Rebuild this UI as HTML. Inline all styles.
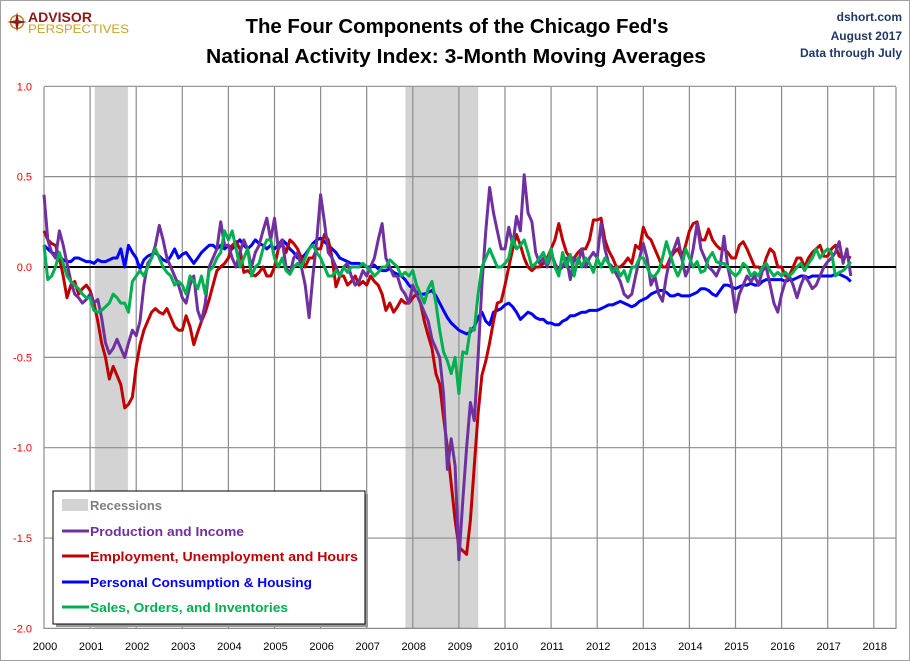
<!DOCTYPE html>
<html><head><meta charset="utf-8"><style>
body{margin:0;background:#fff;}
#wrap{position:relative;width:908px;height:659px;border:1px solid #a0a0a0;overflow:hidden;font-family:"Liberation Sans",sans-serif;}
svg{position:absolute;left:0;top:0}
</style></head><body>
<div id="wrap">
<svg id="chart" width="910" height="661"></svg>
</div>
<script>
const years=["2000","2001","2002","2003","2004","2005","2006","2007","2008","2009","2010","2011","2012","2013","2014","2015","2016","2017","2018"];
const yTicks=[1.0,0.5,0.0,-0.5,-1.0,-1.5,-2.0];
const yTickLabels=["1.0","0.5","0.0","-0.5","-1.0","-1.5","-2.0"];
const recessions=[[2001.1,2001.82],[2007.84,2009.42]];
const startYear=2000;
const production=[0.4,0.15,0.08,0.05,0.2,0.12,0.02,-0.08,-0.15,-0.17,-0.2,-0.18,
-0.15,-0.2,-0.18,-0.28,-0.42,-0.48,-0.45,-0.4,-0.45,-0.5,-0.42,-0.35,
-0.38,-0.3,-0.1,0.02,0.05,0.12,0.23,0.15,0.05,0.0,-0.05,-0.1,
-0.17,-0.2,-0.1,-0.05,-0.24,-0.3,-0.2,0.0,0.05,0.1,0.25,0.12,
0.12,0.05,0.0,0.08,0.15,0.1,0.0,0.08,0.12,0.2,0.27,0.15,
0.27,0.1,0.15,0.0,-0.04,0.05,0.08,0.0,-0.1,-0.28,-0.05,0.15,
0.4,0.25,0.08,0.05,0.0,-0.05,0.0,0.02,-0.05,-0.1,-0.08,-0.02,
-0.05,0.0,0.05,0.15,0.24,0.05,0.0,-0.05,-0.05,-0.12,-0.15,-0.2,
-0.1,-0.15,-0.2,-0.25,-0.3,-0.4,-0.45,-0.5,-0.7,-1.12,-0.95,-1.1,
-1.62,-1.3,-1.0,-0.75,-0.85,-0.5,-0.1,0.2,0.44,0.3,0.2,0.1,
0.1,0.22,0.12,0.28,0.2,0.51,0.3,0.25,0.08,0.02,0.05,0.0,
0.08,0.02,-0.02,0.0,0.05,-0.07,0.05,0.02,0.1,0.0,0.05,0.08,
0.05,0.24,0.1,0.02,0.0,-0.04,-0.08,-0.15,-0.17,-0.15,-0.05,0.05,
0.13,0.05,-0.1,-0.05,-0.15,-0.19,-0.05,0.05,0.1,0.16,0.05,-0.05,
0.0,0.1,0.24,0.1,0.05,0.0,-0.02,-0.05,0.0,0.17,0.0,-0.1,
-0.25,-0.15,-0.1,-0.05,-0.08,-0.05,-0.1,-0.02,0.0,-0.1,-0.2,-0.25,
-0.15,-0.08,-0.05,-0.1,-0.17,-0.1,-0.05,-0.08,-0.12,-0.1,-0.05,0.0,
0.03,0.05,0.08,0.14,0.02,0.1,-0.05];
const employment=[0.2,0.15,0.13,0.12,0.05,-0.05,-0.17,-0.1,-0.08,-0.15,-0.12,-0.1,
-0.13,-0.2,-0.3,-0.42,-0.5,-0.62,-0.55,-0.6,-0.65,-0.78,-0.76,-0.72,
-0.55,-0.43,-0.35,-0.3,-0.25,-0.23,-0.25,-0.26,-0.23,-0.28,-0.33,-0.35,
-0.35,-0.27,-0.33,-0.43,-0.36,-0.3,-0.25,-0.18,-0.1,-0.02,0.0,0.02,
0.05,0.12,0.14,0.1,-0.03,-0.02,-0.04,-0.05,-0.03,0.0,-0.05,-0.05,
0.0,0.1,0.13,0.08,0.15,0.13,0.1,0.05,0.0,0.05,0.05,0.1,
0.1,0.18,0.15,0.05,-0.11,-0.05,-0.05,-0.1,-0.08,-0.05,-0.1,-0.08,
-0.1,-0.05,-0.08,-0.1,-0.15,-0.24,-0.2,-0.25,-0.22,-0.18,-0.2,-0.2,
-0.17,-0.15,-0.2,-0.3,-0.38,-0.45,-0.59,-0.65,-0.83,-1.0,-1.2,-1.4,
-1.55,-1.57,-1.59,-1.4,-1.1,-0.81,-0.6,-0.52,-0.42,-0.3,-0.2,-0.19,
-0.1,0.0,0.1,0.18,0.12,0.05,0.0,-0.02,0.0,0.0,0.02,0.05,
0.1,0.15,0.24,0.15,0.08,0.05,0.05,0.08,0.1,0.1,0.15,0.26,
0.26,0.27,0.15,0.09,0.05,0.0,0.0,0.02,0.05,0.02,0.12,0.1,
0.22,0.17,0.15,0.1,0.05,0.0,0.0,0.05,0.08,0.1,0.05,0.12,
0.2,0.24,0.25,0.15,0.15,0.21,0.15,0.12,0.1,0.1,0.08,0.05,
0.05,0.12,0.14,0.1,0.05,0.0,0.0,-0.02,0.05,0.1,0.08,0.0,
0.0,-0.05,-0.05,0.0,0.05,0.05,0.0,0.05,0.08,0.1,0.12,0.06,
0.06,0.1,0.12,0.06,0.05,0.06,0.05];
const consumption=[0.12,0.1,0.08,0.07,0.06,0.04,0.03,0.03,0.05,0.05,0.04,0.03,
0.03,0.02,0.04,0.03,0.03,0.04,0.05,0.05,0.1,0.0,0.12,0.08,
0.05,-0.01,0.04,0.06,0.07,0.08,0.06,0.04,0.03,0.06,0.1,0.05,
0.07,0.08,0.05,0.02,0.05,0.08,0.1,0.12,0.12,0.1,0.12,0.1,
0.12,0.1,0.13,0.15,0.12,0.1,0.12,0.15,0.13,0.12,0.1,0.12,
0.1,0.12,0.15,0.13,0.1,0.08,0.05,0.05,0.07,0.1,0.13,0.15,
0.16,0.14,0.12,0.1,0.08,0.05,0.04,0.03,0.02,0.02,0.02,0.01,
0.0,0.0,0.01,-0.01,-0.02,-0.02,-0.01,-0.03,-0.04,-0.05,-0.07,-0.1,
-0.12,-0.14,-0.15,-0.15,-0.14,-0.13,-0.16,-0.2,-0.24,-0.28,-0.31,-0.33,
-0.35,-0.36,-0.37,-0.36,-0.33,-0.28,-0.25,-0.3,-0.32,-0.25,-0.24,-0.23,
-0.21,-0.2,-0.22,-0.25,-0.29,-0.27,-0.25,-0.26,-0.28,-0.29,-0.29,-0.31,
-0.31,-0.32,-0.32,-0.3,-0.29,-0.27,-0.27,-0.26,-0.25,-0.25,-0.24,-0.24,
-0.24,-0.23,-0.22,-0.21,-0.21,-0.2,-0.19,-0.2,-0.21,-0.22,-0.21,-0.19,
-0.18,-0.17,-0.15,-0.14,-0.13,-0.13,-0.14,-0.16,-0.16,-0.15,-0.16,-0.16,
-0.16,-0.15,-0.14,-0.12,-0.12,-0.13,-0.15,-0.16,-0.13,-0.1,-0.1,-0.11,
-0.12,-0.11,-0.1,-0.1,-0.09,-0.1,-0.1,-0.08,-0.07,-0.07,-0.07,-0.07,
-0.07,-0.08,-0.07,-0.07,-0.06,-0.05,-0.05,-0.06,-0.05,-0.05,-0.05,-0.05,
-0.05,-0.05,-0.04,-0.04,-0.05,-0.06,-0.08];
const sales=[0.12,-0.07,-0.05,0.0,0.08,0.02,-0.05,-0.08,-0.1,-0.12,-0.15,-0.17,
-0.17,-0.24,-0.25,-0.24,-0.22,-0.2,-0.15,-0.17,-0.2,-0.2,-0.25,-0.08,
-0.05,-0.02,-0.05,0.0,0.05,0.1,0.05,0.0,-0.03,-0.05,-0.1,-0.08,
-0.1,-0.15,-0.05,-0.08,-0.12,-0.05,-0.15,-0.02,0.0,0.05,0.08,0.2,
0.15,0.2,0.1,0.0,0.05,0.1,-0.05,0.0,0.02,0.1,0.15,0.15,
0.05,0.0,0.05,-0.02,-0.04,0.0,0.02,0.0,0.05,0.1,0.12,0.08,
0.05,0.0,-0.05,-0.05,-0.02,-0.05,0.0,-0.03,0.0,0.0,0.0,0.02,
0.0,-0.02,-0.05,-0.03,0.0,0.0,0.04,0.02,0.0,-0.05,-0.03,-0.05,
-0.02,-0.1,-0.15,-0.2,-0.12,-0.08,-0.2,-0.35,-0.47,-0.52,-0.59,-0.5,
-0.7,-0.47,-0.48,-0.34,-0.35,-0.15,0.0,0.05,0.1,0.05,0.0,0.0,
0.02,0.05,0.16,0.1,0.12,0.15,0.08,0.0,0.02,0.05,0.08,0.02,
0.1,0.0,-0.05,0.08,0.0,0.07,-0.05,0.05,0.0,0.05,0.02,-0.03,
0.05,0.0,0.05,0.02,-0.03,0.0,-0.05,-0.02,-0.08,0.0,0.0,0.05,
0.05,0.0,-0.05,-0.05,-0.02,0.05,0.14,0.07,0.0,-0.05,0.0,0.1,
0.05,0.0,0.03,-0.03,-0.02,0.05,0.08,0.03,0.02,0.02,0.0,-0.03,
-0.05,-0.03,0.02,0.0,-0.05,-0.03,-0.05,0.0,0.02,-0.02,-0.05,-0.03,
-0.05,-0.03,-0.05,-0.03,0.0,0.02,-0.02,0.02,0.05,0.1,0.05,0.08,
0.1,0.08,-0.05,-0.03,-0.02,0.0,0.03];

const NS="http://www.w3.org/2000/svg";
const svg=document.getElementById('chart');
const X0=43,XW=46.1,Y0=266,YS=180.7,PL=43,PR=895,PT=86,PB=628;
function xs(t){return X0+(t-startYear)*XW;}
function ys(v){return Y0-v*YS;}
function mk(tag,attrs,parent){const e=document.createElementNS(NS,tag);for(const k in attrs)e.setAttribute(k,attrs[k]);(parent||svg).appendChild(e);return e;}

recessions.forEach(r=>{
 const e=mk('rect',{x:xs(r[0]),y:PT,width:xs(r[1])-xs(r[0]),height:PB-PT,fill:'#d3d3d3'});
 
 
});
yTicks.forEach((v,i)=>{
 const l=mk('line',{x1:PL,x2:PR,y1:ys(v),y2:ys(v),stroke:'#8c8c8c','stroke-width':1.2});
 
 
 const t=mk('text',{x:31,y:ys(v)+4,'text-anchor':'end','font-size':11,fill:'#ff0000'});
 t.textContent=yTickLabels[i];
 
 
});
years.forEach((y,i)=>{
 const x=xs(startYear+i);
 const l=mk('line',{x1:x,x2:x,y1:PT,y2:PB,stroke:'#8c8c8c','stroke-width':1.2});
 
 
 const t=mk('text',{x:x+1,y:649,'text-anchor':'middle','font-size':11,fill:'#000'});
 t.textContent=y;
 
 
});
const rl=mk('line',{x1:PR,x2:PR,y1:PT,y2:PB,stroke:'#8c8c8c','stroke-width':1.2});


const zl=mk('line',{x1:PL,x2:PR,y1:ys(0),y2:ys(0),stroke:'#000','stroke-width':2});



function series(arr,color,name){
 const pts=arr.map((v,i)=>xs(startYear+i/12).toFixed(1)+','+ys(v).toFixed(1)).join(' ');
 const p=mk('polyline',{points:pts,fill:'none',stroke:color,'stroke-width':3,'stroke-linejoin':'round'});
 
 
}
series(consumption,'#0000ff','series-personal-consumption');
series(employment,'#c00000','series-employment');
series(production,'#7030a0','series-production');
series(sales,'#00b050','series-sales');

const lg=mk('g',{});


mk('rect',{x:55,y:493,width:312,height:133,fill:'#999'},lg);
mk('rect',{x:52,y:490,width:312,height:133,fill:'#fff',stroke:'#000','stroke-width':1},lg);
const re=mk('rect',{x:61,y:498,width:26,height:12,fill:'#d3d3d3'},lg);


const entries=[["Recessions","#808080",509,null,72],["Production and Income","#7030a0",535,"#7030a0",154],["Employment, Unemployment and Hours","#c00000",560,"#c00000",268],["Personal Consumption & Housing","#0000ff",586,"#0000ff",222],["Sales, Orders, and Inventories","#00b050",611,"#00b050",198]];
entries.forEach(e=>{
 if(e[3]){const l=mk('line',{x1:61,x2:88,y1:e[2]-5,y2:e[2]-5,stroke:e[3],'stroke-width':3},lg);
 
 }
 const t=mk('text',{x:89,y:e[2],'font-size':13,'font-weight':'bold',fill:e[1],textLength:e[4],lengthAdjust:'spacingAndGlyphs'},lg);
 t.textContent=e[0];
 
 
});

const t1=mk('text',{x:456,y:32,'text-anchor':'middle','font-size':20.5,'font-weight':'bold',fill:'#000',textLength:423,lengthAdjust:'spacingAndGlyphs'});
t1.textContent="The Four Components of the Chicago Fed's";


const t2=mk('text',{x:455,y:62,'text-anchor':'middle','font-size':20.5,'font-weight':'bold',fill:'#000',textLength:500,lengthAdjust:'spacingAndGlyphs'});
t2.textContent="National Activity Index: 3-Month Moving Averages";


[["dshort.com",20,'source-label'],["August 2017",39,'date-label'],["Data through July",56,'data-through-label']].forEach(r=>{
 const t=mk('text',{x:901,y:r[1],'text-anchor':'end','font-size':12,'font-weight':'bold',fill:'#1f3864'});
 t.textContent=r[0];
 
 
});
const lo=mk('g',{});


mk('circle',{cx:16,cy:21,r:6.5,fill:'none',stroke:'#b8860b','stroke-width':1.5},lo);
mk('path',{d:'M16 11 L18 21 L16 31 L14 21 Z M6 21 L16 19 L26 21 L16 23 Z',fill:'#8b1a1a'},lo);
const a1=mk('text',{x:27,y:21,'font-size':14,'font-weight':'bold',fill:'#8b1a1a',textLength:64,lengthAdjust:'spacingAndGlyphs'},lo);
a1.textContent="ADVISOR";
const a2=mk('text',{x:27,y:32,'font-size':12,fill:'#c9a227',textLength:101,lengthAdjust:'spacingAndGlyphs'},lo);
a2.textContent="PERSPECTIVES";
</script>
</body></html>
